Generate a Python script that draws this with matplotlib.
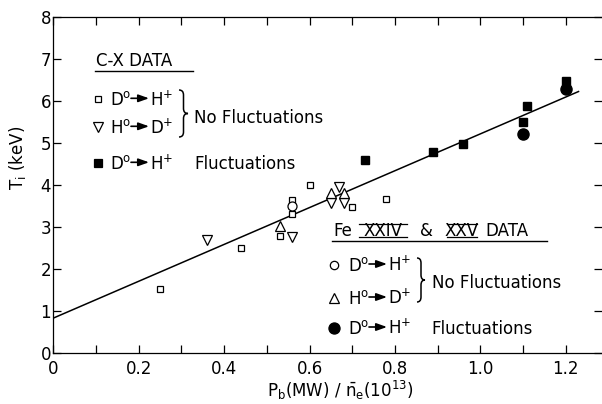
import matplotlib.pyplot as plt
from matplotlib.path import Path
from matplotlib.patches import PathPatch
from matplotlib.lines import Line2D
from matplotlib.transforms import Affine2D

# C-X data
cx_dh_x = [0.25, 0.44, 0.53, 0.56, 0.56, 0.60, 0.70, 0.78]
cx_dh_y = [1.52, 2.49, 2.78, 3.30, 3.64, 4.00, 3.48, 3.66]
cx_hd_x = [0.36, 0.56, 0.65, 0.67, 0.68]
cx_hd_y = [2.69, 2.75, 3.56, 3.96, 3.56]
cx_fl_x = [0.73, 0.89, 0.96, 1.10, 1.11, 1.20]
cx_fl_y = [4.59, 4.79, 4.97, 5.49, 5.87, 6.47]

# Fe XXIV & XXV data
fe_dh_x = [0.56]
fe_dh_y = [3.50]
fe_hd_x = [0.53, 0.65, 0.68]
fe_hd_y = [3.02, 3.80, 3.80]
fe_fl_x = [1.10, 1.20]
fe_fl_y = [5.20, 6.28]

# fitted line
fit_x = [0.0, 1.23]
fit_y = [0.83, 6.22]

xticks = [0, 0.2, 0.4, 0.6, 0.8, 1.0, 1.2]
xticklabels = ['0', '0.2', '0.4', '0.6', '0.8', '1.0', '1.2']
yticks = [0, 1, 2, 3, 4, 5, 6, 7, 8]

plt.rcParams['font.family'] = ['DejaVu Sans']
plt.rcParams['mathtext.default'] = 'regular'
FS = 12

W, H = 602, 404
fig = plt.figure(figsize=(W / 100, H / 100), dpi=100)
ax = fig.add_axes([53.3 / W, 51 / H, 548.7 / W, 336.3 / H])
# pixel coordinates of the reference picture (y downwards)
pix = Affine2D().scale(1 / W, -1 / H).translate(0, 1) + fig.transFigure

ax.plot(fit_x, fit_y, 'k-', lw=1.1)
ax.plot(cx_dh_x, cx_dh_y, 's', mfc='white', mec='k', ms=5, mew=0.9, ls='none')
ax.plot(cx_hd_x, cx_hd_y, 'v', mfc='white', mec='k', ms=7, mew=0.9, ls='none')
ax.plot(cx_fl_x, cx_fl_y, 's', color='k', ms=5.5, ls='none')
ax.plot(fe_dh_x, fe_dh_y, 'o', mfc='white', mec='k', ms=6.5, mew=0.9, ls='none')
ax.plot(fe_hd_x, fe_hd_y, '^', mfc='white', mec='k', ms=7, mew=0.9, ls='none')
ax.plot(fe_fl_x, fe_fl_y, 'o', color='k', ms=8, ls='none')

ax.set_xlim(0, 1.285)
ax.set_ylim(0, 8)
ax.set_xticks(xticks)
ax.set_xticklabels(xticklabels)
ax.set_xticks([i / 10 for i in range(1, 13, 2)], minor=True)
ax.set_yticks(yticks)
ax.tick_params(which='both', direction='in', length=6, width=0.9,
               top=True, right=True, labelsize=FS)
ax.tick_params(axis='x', pad=5)
ax.tick_params(axis='y', pad=1.5)
ax.spines['right'].set_visible(False)
for s in ['left', 'bottom', 'top']:
    ax.spines[s].set_linewidth(0.9)

fig.text(18, 158, r'T$_i$ (keV)', transform=pix, rotation=90,
         ha='center', va='center', fontsize=FS)
fig.text(340, 390, r'P$_b$(MW) / $\bar{n}_e$(10$^{13}$)', transform=pix,
         ha='center', va='center', fontsize=FS)


def line(x0, x1, y0, y1, lw=1.0):
    fig.add_artist(Line2D([x0, x1], [y0, y1], transform=pix, color='k', lw=lw))


def reaction(x, y, a, b):
    fig.text(x, y + 6, a + r'$^{o}$', transform=pix, fontsize=FS, va='baseline')
    ax.annotate('', xy=(x + 39, y - 1), xytext=(x + 21, y - 1), xycoords=pix, textcoords=pix,
                arrowprops=dict(arrowstyle='-|>,head_length=0.7,head_width=0.25', lw=1.2,
                                color='k', mutation_scale=9, shrinkA=0, shrinkB=0))
    fig.text(x + 40, y + 6, b + r'$^{+}$', transform=pix, fontsize=FS, va='baseline')


def brace(x0, x1, yt, yb):
    xm = (x0 + x1) / 2
    ym = (yt + yb) / 2
    verts = [(x0, yt), (xm, yt), (xm, yt + 5), (xm, ym - 5), (xm, ym), (x1, ym),
             (xm, ym), (xm, ym + 5), (xm, yb - 5), (xm, yb), (x0, yb)]
    codes = [Path.MOVETO, Path.CURVE3, Path.CURVE3, Path.LINETO, Path.CURVE3, Path.CURVE3,
             Path.CURVE3, Path.CURVE3, Path.LINETO, Path.CURVE3, Path.CURVE3]
    fig.add_artist(PathPatch(Path(verts, codes), fill=False, lw=1.1, transform=pix))


def marker(x, y, m, filled, ms):
    ax.plot([x], [y], m, transform=pix, clip_on=False, ms=ms, mew=0.9,
            mfc='k' if filled else 'white', mec='k')


# C-X legend
fig.text(96, 66, 'C-X DATA', transform=pix, fontsize=FS, va='baseline')
line(95, 193, 71, 71)
marker(98.3, 99.3, 's', False, 5)
reaction(110, 99.3, 'D', 'H')
marker(98.3, 127.3, 'v', False, 7)
reaction(110, 127.3, 'H', 'D')
brace(179, 188, 90, 137)
fig.text(194, 122.7, 'No Fluctuations', transform=pix, fontsize=FS, va='baseline')
marker(98.3, 163.3, 's', True, 5.5)
reaction(110, 163.3, 'D', 'H')
fig.text(194, 169.3, 'Fluctuations', transform=pix, fontsize=FS, va='baseline')

# Fe legend
fig.text(333, 236, 'Fe', transform=pix, fontsize=FS, va='baseline')
fig.text(383, 236, 'XXIV', transform=pix, fontsize=FS, va='baseline', ha='center')
line(359, 407, 223.5, 223.5, 0.9)
line(359, 407, 236.5, 236.5, 0.9)
fig.text(420, 236, '&', transform=pix, fontsize=FS, va='baseline')
fig.text(462, 236, 'XXV', transform=pix, fontsize=FS, va='baseline', ha='center')
line(447, 477, 223.5, 223.5, 0.9)
line(447, 477, 236.5, 236.5, 0.9)
fig.text(485, 236, 'DATA', transform=pix, fontsize=FS, va='baseline')
line(332, 547, 241, 241)
marker(334, 265, 'o', False, 6)
reaction(348, 265, 'D', 'H')
marker(334, 298, '^', False, 6.5)
reaction(348, 298, 'H', 'D')
brace(417, 425, 258, 302)
fig.text(431.7, 287.7, 'No Fluctuations', transform=pix, fontsize=FS, va='baseline')
marker(334, 328, 'o', True, 8)
reaction(348, 328, 'D', 'H')
fig.text(431.7, 334, 'Fluctuations', transform=pix, fontsize=FS, va='baseline')

fig.savefig('out.png', dpi=100)
